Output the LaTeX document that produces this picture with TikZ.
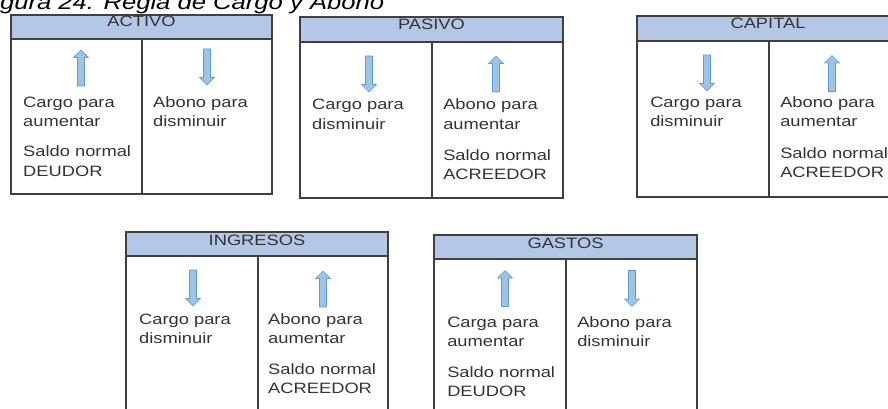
\documentclass[tikz,border=0pt]{standalone}
\usepackage{fontspec}
\setmainfont{Liberation Sans}
\definecolor{boxline}{HTML}{404040}
\definecolor{hdrblue}{HTML}{B4C7E7}
\definecolor{txtgray}{HTML}{333333}
\definecolor{arrfill}{HTML}{9DC3E6}
\definecolor{arredge}{HTML}{5B9BD5}
\begin{document}
\begin{tikzpicture}[x=1pt,y=-1pt,
  box/.style={draw=boxline, line width=1.2pt},
  hdr/.style={box, fill=hdrblue},
  ttl/.style={font=\fontsize{15}{19}\selectfont, text=txtgray, anchor=base, inner sep=0pt, xscale=1.22},
  body/.style={font=\fontsize{15}{19}\selectfont, text=txtgray, anchor=base west, inner sep=0pt, xscale=1.22},
  blockarrow/.style={fill=arrfill, draw=arredge, line width=0.6pt, line join=round},
  uparr/.pic={\path[blockarrow] (0,-18) -- (7.5,-10.5) -- (3.5,-10.5) -- (3.5,18) -- (-3.5,18) -- (-3.5,-10.5) -- (-7.5,-10.5) -- cycle;},
  downarr/.pic={\path[blockarrow] (0,18) -- (7.5,10.5) -- (3.5,10.5) -- (3.5,-18) -- (-3.5,-18) -- (-3.5,10.5) -- (-7.5,10.5) -- cycle;}]
\useasboundingbox (0,0) rectangle (888,409);
\clip (0,0) rectangle (888,409);

% title
\node[font=\fontsize{21}{25}\selectfont\itshape, anchor=base west, inner sep=0pt, xscale=1.22] (title) at (-21.5,10) {Figura 24: Regla de Cargo y Abono};

% ACTIVO
\draw[box] (11,15) rectangle (272,194);
\filldraw[hdr] (11,15) rectangle (272,39);
\draw[box] (142,39) -- (142,194);
\node[ttl] (hA) at (141.5,27) {ACTIVO};
\pic (aA1) at (81,68) {uparr};
\pic (aA2) at (207,67) {downarr};
\node[body] (tA1) at (23,107) {Cargo para};
\node[body] (tA2) at (23,126) {aumentar};
\node[body] (tA3) at (23,157) {Saldo normal};
\node[body] (tA4) at (23,176) {DEUDOR};
\node[body] (tA5) at (153,107) {Abono para};
\node[body] (tA6) at (153,126) {disminuir};

% PASIVO
\draw[box] (300,17) rectangle (563,198);
\filldraw[hdr] (300,17) rectangle (563,42);
\draw[box] (432,42) -- (432,198);
\node[ttl] (hP) at (431.5,30) {PASIVO};
\pic (aP1) at (369,74) {downarr};
\pic (aP2) at (496,74) {uparr};
\node[body] (tP1) at (312,110) {Cargo para};
\node[body] (tP2) at (312,129) {disminuir};
\node[body] (tP3) at (443,110) {Abono para};
\node[body] (tP4) at (443,129) {aumentar};
\node[body] (tP5) at (443,160) {Saldo normal};
\node[body] (tP6) at (443,179) {ACREEDOR};

% CAPITAL
\draw[box] (637,16) rectangle (899,197);
\filldraw[hdr] (637,16) rectangle (899,41);
\draw[box] (769,41) -- (769,197);
\node[ttl] (hC) at (768,29) {CAPITAL};
\pic (aC1) at (707,73) {downarr};
\pic (aC2) at (832,73.5) {uparr};
\node[body] (tC1) at (650,108) {Cargo para};
\node[body] (tC2) at (650,127) {disminuir};
\node[body] (tC3) at (780,108) {Abono para};
\node[body] (tC4) at (780,127) {aumentar};
\node[body] (tC5) at (780,158) {Saldo normal};
\node[body] (tC6) at (780,177) {ACREEDOR};

% INGRESOS
\draw[box] (126,232) rectangle (388,420);
\filldraw[hdr] (126,232) rectangle (388,256);
\draw[box] (258,256) -- (258,420);
\node[ttl] (hI) at (257,245) {INGRESOS};
\pic (aI1) at (193,288) {downarr};
\pic (aI2) at (323,289) {uparr};
\node[body] (tI1) at (139,324) {Cargo para};
\node[body] (tI2) at (139,343) {disminuir};
\node[body] (tI3) at (268,324) {Abono para};
\node[body] (tI4) at (268,343) {aumentar};
\node[body] (tI5) at (268,374) {Saldo normal};
\node[body] (tI6) at (268,393) {ACREEDOR};

% GASTOS
\draw[box] (434,235) rectangle (697,420);
\filldraw[hdr] (434,235) rectangle (697,259);
\draw[box] (566,259) -- (566,420);
\node[ttl] (hG) at (565.5,248) {GASTOS};
\pic (aG1) at (505,288.5) {uparr};
\pic (aG2) at (632,288.5) {downarr};
\node[body] (tG1) at (447,327) {Carga para};
\node[body] (tG2) at (447,346) {aumentar};
\node[body] (tG3) at (447,377) {Saldo normal};
\node[body] (tG4) at (447,396) {DEUDOR};
\node[body] (tG5) at (577,327) {Abono para};
\node[body] (tG6) at (577,346) {disminuir};
\end{tikzpicture}
\end{document}
